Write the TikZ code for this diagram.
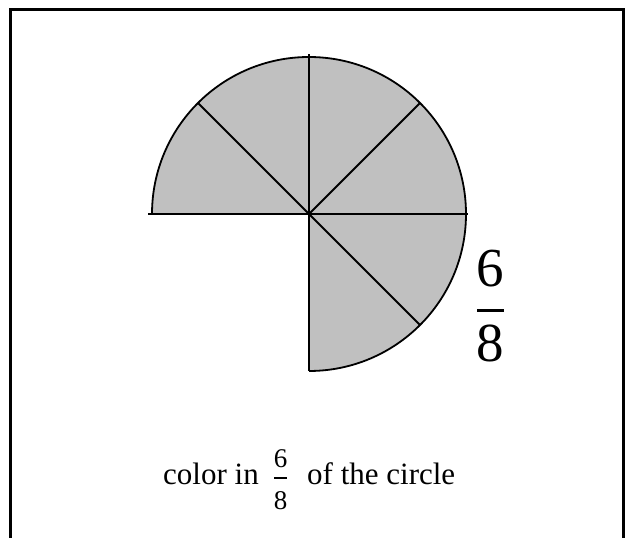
\documentclass[tikz,border=0pt]{standalone}
\usepackage{fontspec}
\setmainfont{Liberation Serif}
\usetikzlibrary{positioning}
\definecolor{piefill}{HTML}{C0C0C0}

\begin{document}
\begin{tikzpicture}[
  x=1pt,y=1pt,
  frame/.style={black,line width=3.3pt},
  spoke/.style={black,line width=1.8pt},
  bignum/.style={font=\fontsize{55}{66}\selectfont,inner sep=0pt,anchor=base},
  smallnum/.style={font=\fontsize{27}{32}\selectfont,inner sep=0pt,anchor=base},
  caption/.style={font=\fontsize{31}{37}\selectfont,inner sep=0pt,anchor=base west}
]
  \useasboundingbox (0,0) rectangle (632,538);
  % open frame
  \draw[frame] (10.5,0) |- (623.5,528.5) -- (623.5,0);

  % pie, six of eight slices
  \coordinate (ctr) at (309,324);
  \fill[piefill] (ctr) -- ++(-90:157) arc[start angle=-90,end angle=180,radius=157] -- cycle;
  \draw[spoke] (ctr) ++(-90:157) arc[start angle=-90,end angle=180,radius=157];
  \draw[spoke] (148,324) -- (468,324);
  \draw[spoke] (309,167) -- (309,484);
  \draw[spoke] (ctr) -- +(45:157);
  \draw[spoke] (ctr) -- +(135:157);
  \draw[spoke] (ctr) -- +(-45:157);

  % big fraction
  \node[bignum] (bigsix) at (490.5,251) {6};
  \node[inner sep=0pt] (bigbar) at (490.5,227) {\rule{27pt}{3pt}};
  \node[bignum] (bigeight) at (490.5,176) {8};

  % caption
  \node[caption] (colorin) at (163,53) {color in};
  \node[smallnum] (smallsix) at (280.5,70.7) {6};
  \node[inner sep=0pt] (smallbar) at (280.5,59.7) {\rule{13pt}{2.2pt}};
  \node[smallnum] (smalleight) at (280.5,28) {8};
  \node[caption] (ofcircle) at (307,53) {of the circle};
\end{tikzpicture}
\end{document}
